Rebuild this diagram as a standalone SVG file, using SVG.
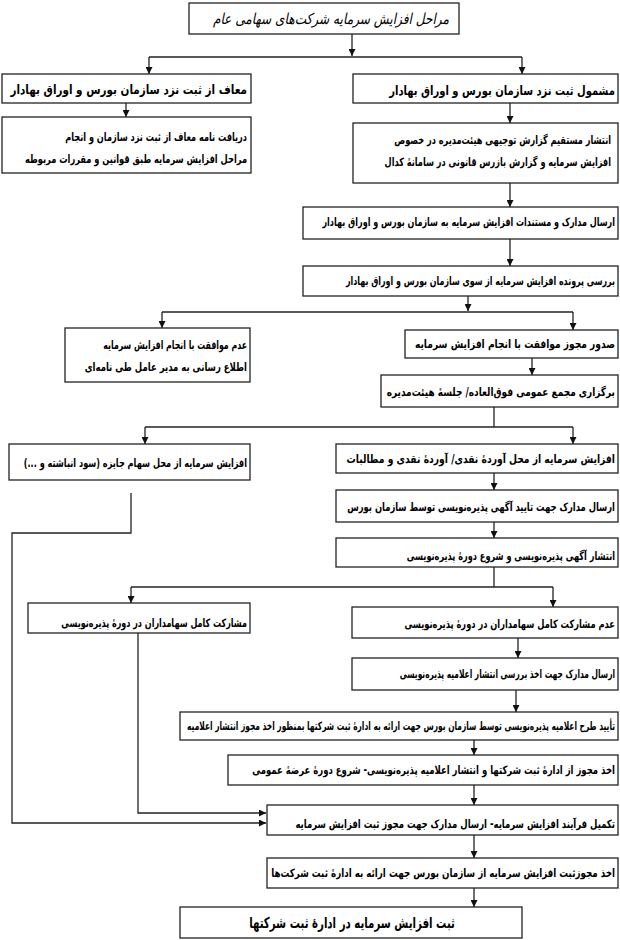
<svg xmlns="http://www.w3.org/2000/svg" width="620" height="940" viewBox="0 0 620 940">
<style>
rect{fill:#fff;stroke:#222;stroke-width:1.3}
text{font-family:"DejaVu Sans",sans-serif;font-size:11.5px;font-weight:bold;fill:#000;text-anchor:end}
.t{font-size:15px;font-weight:normal;font-style:italic}
.h{font-size:13px}
.q{font-size:15px;text-anchor:middle}
.c{fill:none;stroke:#222;stroke-width:1.3}
</style>
<defs>
<marker id="ar2" viewBox="0 0 10 10" refX="10" refY="5" markerWidth="7" markerHeight="7" markerUnits="userSpaceOnUse" orient="auto"><path d="M0,0 L10,5 L0,10 z" fill="#111"/></marker>
</defs>
<rect x="0" y="0" width="620" height="940" style="fill:#fff;stroke:none"/>
<g id="connectors">
<path class="c" d="M352 33 V56" marker-end="url(#ar2)"/>
<path class="c" d="M149 57 H522"/>
<path class="c" d="M149 57 V74" marker-end="url(#ar2)"/>
<path class="c" d="M522 57 V74" marker-end="url(#ar2)"/>
<path class="c" d="M126 103 V117" marker-end="url(#ar2)"/>
<path class="c" d="M510 103 V123" marker-end="url(#ar2)"/>
<path class="c" d="M510 183 V207" marker-end="url(#ar2)"/>
<path class="c" d="M510 239 V266" marker-end="url(#ar2)"/>
<path class="c" d="M468 296 V311" marker-end="url(#ar2)"/>
<path class="c" d="M162 312 H573"/>
<path class="c" d="M162 312 V328" marker-end="url(#ar2)"/>
<path class="c" d="M573 312 V330" marker-end="url(#ar2)"/>
<path class="c" d="M532 358 V375" marker-end="url(#ar2)"/>
<path class="c" d="M494 407 V427"/>
<path class="c" d="M145 427 H573"/>
<path class="c" d="M145 427 V444" marker-end="url(#ar2)"/>
<path class="c" d="M573 427 V444" marker-end="url(#ar2)"/>
<path class="c" d="M494 473 V490" marker-end="url(#ar2)"/>
<path class="c" d="M494 522 V538" marker-end="url(#ar2)"/>
<path class="c" d="M494 567 V587"/>
<path class="c" d="M131 587 H553"/>
<path class="c" d="M131 587 V603" marker-end="url(#ar2)"/>
<path class="c" d="M553 587 V607" marker-end="url(#ar2)"/>
<path class="c" d="M518 638 V658" marker-end="url(#ar2)"/>
<path class="c" d="M516 690 V712" marker-end="url(#ar2)"/>
<path class="c" d="M474 740 V755" marker-end="url(#ar2)"/>
<path class="c" d="M474 785 V805" marker-end="url(#ar2)"/>
<path class="c" d="M131 493 V533 H12 V823 H266" marker-end="url(#ar2)"/>
<path class="c" d="M138 633 V813 H266" marker-end="url(#ar2)"/>
<path class="c" d="M474 835 V858" marker-end="url(#ar2)"/>
<path class="c" d="M474 888 V907" marker-end="url(#ar2)"/>
</g>
<g id="title"><rect x="189" y="3" width="270" height="31"/><text class="t" transform="translate(449 24) scale(0.81 1)">مراحل افزایش سرمایه شرکت‌های سهامی عام</text></g>
<g id="exempt"><rect x="2" y="74" width="249" height="29"/><text class="h" transform="translate(247 94) scale(0.8 1)">معاف از ثبت نزد سازمان بورس و اوراق بهادار</text></g>
<g id="included"><rect x="353" y="74" width="265" height="29"/><text class="h" transform="translate(615 95) scale(0.77 1)">مشمول ثبت نزد سازمان بورس و اوراق بهادار</text></g>
<g id="exempt-letter"><rect x="2" y="117" width="249" height="56"/><text transform="translate(247 141) scale(0.71 1)">دریافت نامه معاف از ثبت نزد سازمان و انجام</text><text transform="translate(247 163) scale(0.72 1)">مراحل افزایش سرمایه طبق قوانین و مقررات مربوطه</text></g>
<g id="publish-report"><rect x="353" y="123" width="265" height="60"/><text transform="translate(611 144) scale(0.71 1)">انتشار مستقیم گزارش توجیهی هیئت‌مدیره در خصوص</text><text transform="translate(611 166) scale(0.71 1)">افزایش سرمایه و گزارش بازرس قانونی در سامانهٔ کدال</text></g>
<g id="send-docs"><rect x="303" y="207" width="315" height="32"/><text transform="translate(615 226) scale(0.7 1)">ارسال مدارک و مستندات افزایش سرمایه به سازمان بورس و اوراق بهادار</text></g>
<g id="review"><rect x="303" y="266" width="315" height="30"/><text transform="translate(615 285) scale(0.69 1)">بررسی پرونده افزایش سرمایه از سوی سازمان بورس و اوراق بهادار</text></g>
<g id="reject"><rect x="65" y="328" width="185" height="54"/><text transform="translate(247 349) scale(0.68 1)">عدم موافقت با انجام افزایش سرمایه</text><text transform="translate(247 371) scale(0.74 1)">اطلاع رسانی به مدیر عامل طی نامه‌ای</text></g>
<g id="approve"><rect x="405" y="330" width="213" height="28"/><text transform="translate(615 348) scale(0.79 1)">صدور مجوز موافقت با انجام افزایش سرمایه</text></g>
<g id="meeting"><rect x="381" y="375" width="237" height="32"/><text transform="translate(615 396) scale(0.78 1)">برگزاری مجمع عمومی فوق‌العاده/ جلسهٔ هیئت‌مدیره</text></g>
<g id="bonus"><rect x="9" y="444" width="241" height="36"/><text transform="translate(247 467) scale(0.71 1)">افزایش سرمایه از محل سهام جایزه (سود انباشته و ...)&#x200F;</text></g>
<g id="cash"><rect x="336" y="444" width="282" height="29"/><text transform="translate(615 463) scale(0.8 1)">افزایش سرمایه از محل آوردهٔ نقدی/ آوردهٔ نقدی و مطالبات</text></g>
<g id="ad-approval"><rect x="336" y="490" width="282" height="32"/><text transform="translate(615 511) scale(0.73 1)">ارسال مدارک جهت تایید آگهی پذیره‌نویسی توسط سازمان بورس</text></g>
<g id="ad-publish"><rect x="336" y="538" width="282" height="29"/><text transform="translate(615 560) scale(0.71 1)">انتشار آگهی پذیره‌نویسی و شروع دورهٔ پذیره‌نویسی</text></g>
<g id="full"><rect x="28" y="603" width="222" height="30"/><text transform="translate(247 627) scale(0.7 1)">مشارکت کامل سهامداران در دورهٔ پذیره‌نویسی</text></g>
<g id="partial"><rect x="352" y="607" width="266" height="31"/><text transform="translate(615 628) scale(0.72 1)">عدم مشارکت کامل سهامداران در دورهٔ پذیره‌نویسی</text></g>
<g id="notice-docs"><rect x="352" y="658" width="266" height="32"/><text transform="translate(615 678) scale(0.65 1)">ارسال مدارک جهت اخذ بررسی انتشار اعلامیه پذیره‌نویسی</text></g>
<g id="notice-approval"><rect x="180" y="712" width="438" height="28"/><text transform="translate(615 730) scale(0.65 1)">تأیید طرح اعلامیه پذیره‌نویسی توسط سازمان بورس جهت ارائه به ادارهٔ ثبت شرکتها بمنظور اخذ مجوز انتشار اعلامیه</text></g>
<g id="public-offer"><rect x="228" y="755" width="390" height="30"/><text transform="translate(615 774) scale(0.74 1)">اخذ مجوز از ادارهٔ ثبت شرکتها و انتشار اعلامیه پذیره‌نویسی- شروع دورهٔ عرضهٔ عمومی</text></g>
<g id="complete"><rect x="267" y="805" width="351" height="30"/><text transform="translate(615 828) scale(0.74 1)">تکمیل فرآیند افزایش سرمایه- ارسال مدارک جهت مجوز ثبت افزایش سرمایه</text></g>
<g id="bourse-permit"><rect x="267" y="858" width="351" height="30"/><text transform="translate(615 877) scale(0.76 1)">اخذ مجوزثبت افزایش سرمایه از سازمان بورس جهت ارائه به ادارهٔ ثبت شرکت‌ها</text></g>
<g id="registration"><rect x="180" y="907" width="342" height="31"/><text class="q" transform="translate(352 928) scale(0.68 1)">ثبت افزایش سرمایه در ادارهٔ ثبت شرکتها</text></g>
</svg>
